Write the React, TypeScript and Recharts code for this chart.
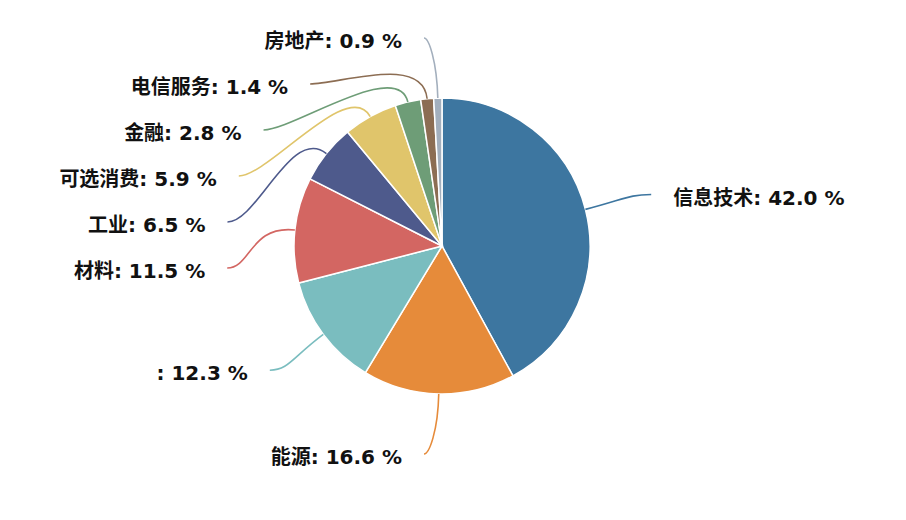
import React from 'react';
import { PieChart, Pie, Cell } from 'recharts';

const sectors = ['信息技术', '能源', '', '材料', '工业', '可选消费', '金融', '电信服务', '房地产'];
const weights = [42.0, 16.6, 12.3, 11.5, 6.5, 5.9, 2.8, 1.4, 0.9];
const colors = ['#3d76a0', '#e68b3a', '#7abdbf', '#d36662', '#4e5a8c', '#e0c56b', '#6e9d77', '#8c6d53', '#a3afbd'];

const data = sectors.map((name, i) => ({ name, value: weights[i] }));

const W = 906;
const H = 520;
const CX = 442;
const CY = 246;
const OR = 148;
const LEN_Y = 60;
const LEN_X = 50;
const LEN2 = 18;
const GAP = 46;
const TOP = 38;
const TEXT_OFF = 22;
const RAD = Math.PI / 180;
const FONT = "'DejaVu Sans', 'Noto Sans CJK SC', sans-serif";

type LabelPos = { y: number; x3: number; left: boolean };

function pava(v: number[]): number[] {
  const blocks: { sum: number; n: number }[] = [];
  v.forEach((val) => {
    blocks.push({ sum: val, n: 1 });
    while (blocks.length > 1) {
      const a = blocks[blocks.length - 2];
      const b = blocks[blocks.length - 1];
      if (a.sum / a.n > b.sum / b.n) {
        blocks.pop();
        a.sum += b.sum;
        a.n += b.n;
      } else break;
    }
  });
  const out: number[] = [];
  blocks.forEach((b) => {
    for (let k = 0; k < b.n; k++) out.push(b.sum / b.n);
  });
  return out;
}

function computeLayout(): LabelPos[] {
  const total = data.reduce((s, d) => s + d.value, 0);
  let cum = 0;
  const RY = OR + LEN_Y;
  const RX = OR + LEN_X;
  const items = data.map((d, i) => {
    const mid = 90 - (360 * (cum + d.value / 2)) / total;
    cum += d.value;
    const y = CY - RY * Math.sin(mid * RAD);
    const left = Math.cos(mid * RAD) < 0;
    return { i, y, left };
  });
  const res: LabelPos[] = new Array(data.length);
  [true, false].forEach((side) => {
    const group = items.filter((it) => it.left === side).sort((a, b) => a.y - b.y);
    const v = group.map((g, k) => g.y - k * GAP);
    const z = pava(v).map((val) => Math.max(val, TOP));
    group.forEach((g, k) => {
      const y = z[k] + k * GAP;
      const dy = y - CY;
      const dx = Math.sqrt(Math.max(0, RX * RX - dy * dy));
      const x2 = side ? CX - dx : CX + dx;
      const x3 = side ? x2 - LEN2 : x2 + LEN2;
      res[g.i] = { y, x3, left: side };
    });
  });
  return res;
}

const layout = computeLayout();

const renderLabel = (props: any) => {
  const { cx, cy, midAngle, outerRadius, index } = props;
  const pos = layout[index];
  if (!pos) return null;
  const cos = Math.cos(-midAngle * RAD);
  const sin = Math.sin(-midAngle * RAD);
  const x1 = cx + outerRadius * cos;
  const y1 = cy + outerRadius * sin;
  const dist = Math.hypot(pos.x3 - x1, pos.y - y1);
  const d1 = Math.min(45, dist * 0.6);
  const d2 = Math.min(30, Math.abs(pos.x3 - x1) * 0.35);
  const c1x = x1 + cos * d1;
  const c1y = y1 + sin * d1;
  const c2x = pos.left ? pos.x3 + d2 : pos.x3 - d2;
  const c2y = pos.y;
  const color = colors[index % colors.length];
  const tx = pos.left ? pos.x3 - TEXT_OFF : pos.x3 + TEXT_OFF;
  return (
    <g>
      <path
        d={`M${x1},${y1} C${c1x},${c1y} ${c2x},${c2y} ${pos.x3},${pos.y}`}
        stroke={color}
        strokeWidth={1.6}
        fill="none"
      />
      <text
        x={tx}
        y={pos.y + 3}
        textAnchor={pos.left ? 'end' : 'start'}
        dominantBaseline="central"
        fontFamily={FONT}
        fontWeight="bold"
        fontSize={20}
        fill="#111"
      >
        {`${data[index].name}: ${data[index].value.toFixed(1)} %`}
      </text>
    </g>
  );
};

export default function App() {
  return (
    <div style={{ position: 'absolute', left: 0, top: 0, width: W, height: H, background: '#fff' }}>
      <PieChart width={W} height={H} margin={{ top: 0, right: 0, bottom: 0, left: 0 }}>
        <Pie
          data={data}
          dataKey="value"
          nameKey="name"
          cx={CX}
          cy={CY}
          innerRadius={0}
          outerRadius={OR}
          startAngle={90}
          endAngle={-270}
          stroke="#ffffff"
          strokeWidth={1.5}
          label={renderLabel}
          labelLine={false}
          isAnimationActive={false}
        >
          {data.map((d, i) => (
            <Cell key={`c-${i}`} fill={colors[i]} />
          ))}
        </Pie>
      </PieChart>
    </div>
  );
}
